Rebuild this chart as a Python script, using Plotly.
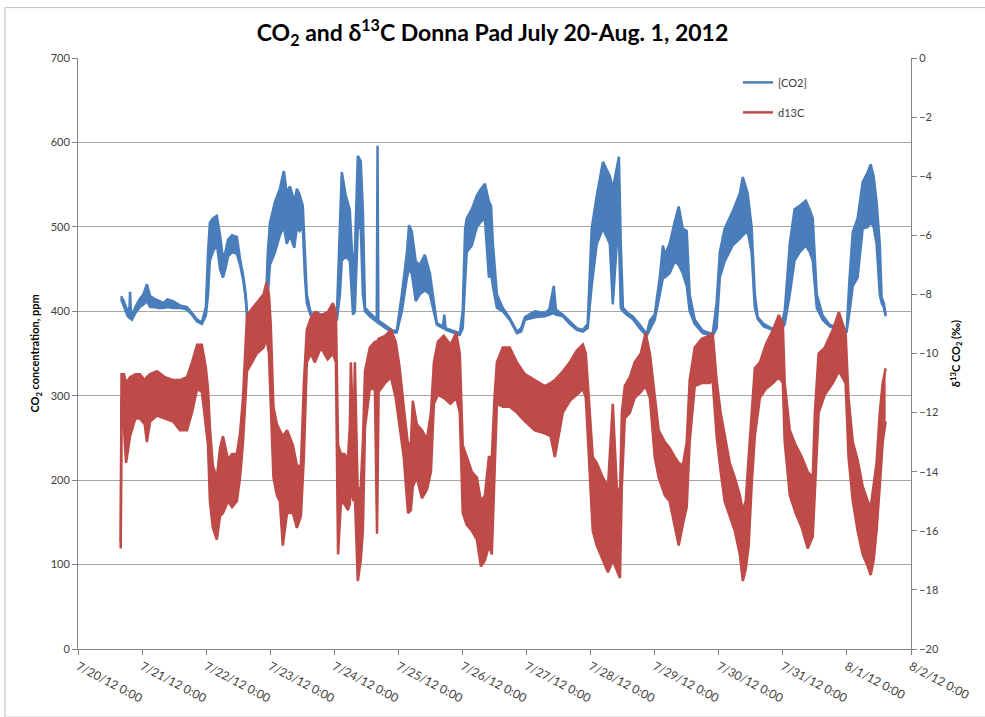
import pandas as pd
import plotly.graph_objects as go

# ---------------- data ----------------
# hours after 7/20/12 0:00, upper and lower edge of the noisy trace
co2_rows = [
    (16.1, 418, 415), (17.2, 412, 405), (18.5, 400, 395), (19.3, 405, 392), (19.5, 423, 392),
    (19.8, 400, 391), (20.2, 395, 390), (21.5, 405, 398), (23.2, 415, 405), (24.5, 420, 408),
    (25.8, 432, 412), (27.0, 418, 405), (28.5, 415, 405), (30.0, 413, 404), (32.0, 410, 404),
    (33.5, 414, 405), (35.6, 412, 404), (38.2, 407, 404), (40.8, 405, 402), (42.7, 398, 396),
    (44.6, 390, 388), (46.4, 387, 385), (47.9, 405, 395), (48.7, 470, 420), (49.4, 505, 460),
    (50.5, 510, 470), (52.0, 513, 480), (53.2, 490, 450), (54.3, 462, 440), (55.2, 470, 450),
    (56.2, 485, 465), (57.7, 490, 470), (59.5, 488, 468), (60.7, 462, 455), (62.0, 440, 435),
    (62.8, 420, 415), (63.5, 390, 386), (64.5, 385, 383), (66.3, 392, 386), (68.9, 405, 395),
    (70.5, 420, 405), (71.1, 470, 420), (71.9, 505, 455), (73.8, 530, 470), (75.6, 545, 490),
    (77.1, 566, 500), (78.2, 540, 480), (79.4, 548, 490), (81.0, 530, 475), (82.0, 545, 500),
    (83.0, 538, 495), (84.2, 525, 500), (85.0, 470, 440), (85.7, 420, 410), (87.0, 400, 396),
    (88.0, 395, 393), (89.5, 399, 396), (91.0, 395, 392), (92.5, 392, 390), (94.0, 390, 388),
    (95.5, 392, 388), (97.0, 400, 390), (98.1, 500, 420), (98.8, 565, 460), (100.3, 537, 465),
    (101.8, 520, 460), (103.0, 448, 396), (103.7, 470, 400), (104.8, 584, 498), (105.9, 578, 500),
    (106.7, 520, 420), (107.5, 404, 400), (109.3, 398, 394), (111.9, 390, 387), (112.2, 596, 387),
    (112.5, 389, 386), (115.7, 382, 379), (117.9, 377, 375), (119.4, 377, 375), (121.3, 420, 400),
    (123.2, 470, 440), (124.0, 502, 450), (125.0, 495, 445), (126.5, 459, 412), (128.0, 455, 420),
    (129.9, 467, 425), (131.8, 445, 420), (133.3, 410, 400), (134.4, 386, 384), (136.7, 382, 380),
    (137.2, 396, 382), (137.7, 380, 378), (140.4, 377, 375), (143.0, 374, 372), (144.1, 400, 380),
    (145.0, 498, 440), (145.6, 510, 470), (147.5, 521, 478), (149.4, 537, 500), (150.9, 545, 506),
    (152.4, 551, 510), (153.9, 530, 440), (154.7, 525, 445), (155.4, 480, 430), (156.9, 420, 404),
    (159.1, 404, 400), (161.7, 392, 390), (164.4, 376, 374), (166.0, 380, 376), (167.4, 393, 390),
    (171.1, 400, 393), (174.8, 398, 394), (176.5, 402, 396), (178.2, 430, 398), (179.0, 402, 396),
    (181.6, 396, 394), (184.2, 388, 385), (186.8, 380, 378), (189.1, 378, 376), (190.9, 385, 380),
    (192.4, 498, 430), (194.3, 537, 480), (196.6, 577, 498), (199.2, 560, 480), (200.3, 545, 408),
    (201.8, 570, 480), (202.6, 583, 490), (203.3, 480, 404), (204.1, 404, 400), (205.9, 398, 395),
    (207.8, 394, 391), (210.4, 384, 380), (213.0, 373, 371), (214.2, 389, 378), (216.0, 396, 390),
    (217.9, 440, 420), (219.1, 478, 440), (219.8, 467, 440), (221.6, 480, 445), (223.5, 506, 459),
    (225.0, 524, 455), (226.5, 498, 445), (228.0, 495, 430), (229.1, 420, 400), (231.0, 390, 385),
    (234.0, 377, 374), (237.7, 373, 371), (239.2, 410, 380), (240.4, 470, 440), (242.2, 498, 459),
    (245.2, 518, 478), (247.9, 540, 486), (249.0, 559, 490), (250.8, 540, 495), (252.3, 500, 470),
    (253.5, 420, 404), (254.6, 393, 391), (256.8, 385, 382), (259.1, 381, 379), (262.8, 377, 375),
    (264.7, 400, 385), (266.6, 480, 420), (268.4, 521, 460), (270.3, 525, 470), (272.6, 531, 478),
    (274.1, 520, 470), (275.2, 510, 460), (276.7, 420, 404), (278.9, 395, 390), (281.5, 384, 382),
    (285.3, 380, 378), (287.9, 377, 376), (289.0, 440, 400), (290.2, 494, 430), (292.0, 510, 440),
    (293.9, 553, 498), (295.8, 565, 500), (296.9, 574, 506), (298.0, 560, 500), (299.1, 530, 480),
    (300.3, 480, 420), (301.0, 416, 410), (301.8, 410, 405), (302.5, 396, 394),
]

d13c_rows = [
    (16.0, -16.4, -16.6), (16.3, -10.7, -11.5), (17.2, -10.7, -12.5), (18.0, -11.0, -13.7),
    (19.5, -10.8, -12.8), (21.5, -10.7, -12.2), (23.2, -10.7, -12.2), (25.0, -10.9, -12.4),
    (25.8, -10.8, -13.0), (27.0, -10.7, -12.3), (29.6, -10.6, -12.1), (32.6, -10.8, -12.2),
    (35.6, -10.9, -12.3), (38.2, -10.9, -12.6), (40.8, -10.8, -12.6), (42.7, -10.3, -12.0),
    (44.6, -9.7, -11.2), (46.4, -9.7, -11.3), (47.9, -10.5, -12.5), (48.7, -11.2, -13.1),
    (49.4, -12.5, -15.0), (50.5, -13.8, -15.9), (52.0, -14.2, -16.3), (53.2, -13.2, -15.5),
    (54.3, -12.8, -15.4), (56.2, -13.6, -15.0), (57.7, -13.4, -15.2), (59.5, -13.4, -15.0),
    (60.7, -12.7, -14.2), (61.8, -11.5, -13.0), (63.3, -8.7, -10.6), (65.0, -8.5, -10.3),
    (67.0, -8.3, -10.0), (69.5, -8.0, -9.8), (70.6, -7.6, -9.5), (71.5, -8.0, -10.0),
    (72.2, -9.0, -11.5), (73.2, -11.8, -14.2), (74.5, -12.4, -14.8), (75.6, -12.6, -15.0),
    (76.7, -12.8, -16.5), (78.3, -12.6, -15.4), (80.5, -13.1, -15.4), (82.0, -13.8, -15.9),
    (83.5, -13.8, -15.5), (84.6, -11.0, -13.5), (85.7, -9.2, -10.3), (87.2, -8.8, -10.0),
    (88.7, -8.6, -10.3), (91.0, -8.7, -9.8), (93.5, -8.6, -10.2), (95.5, -8.3, -10.0),
    (96.6, -8.6, -10.3), (97.4, -13.1, -16.8), (98.5, -13.4, -15.0), (99.8, -13.4, -15.1),
    (101.1, -13.6, -15.3), (101.8, -12.5, -15.1), (102.2, -10.3, -14.5), (103.2, -13.0, -15.0),
    (103.7, -10.3, -14.8), (104.8, -14.8, -17.7), (105.9, -14.5, -17.0), (106.7, -13.0, -16.0),
    (107.5, -10.6, -12.5), (109.3, -9.8, -11.2), (111.2, -9.6, -11.2), (112.0, -9.6, -16.1),
    (112.6, -9.5, -11.3), (115.0, -9.4, -11.0), (117.2, -9.2, -10.8), (119.0, -9.6, -11.5),
    (120.5, -10.5, -12.5), (122.0, -11.8, -13.5), (123.6, -13.1, -15.4), (124.7, -13.0, -15.3),
    (125.4, -11.6, -14.5), (126.9, -12.4, -14.2), (128.8, -12.6, -14.9), (130.7, -12.9, -14.6),
    (132.2, -12.0, -14.0), (133.3, -10.3, -11.7), (134.8, -9.6, -11.4), (137.0, -9.4, -11.5),
    (139.5, -9.7, -11.7), (141.7, -9.3, -11.5), (143.0, -10.0, -12.0), (144.1, -13.1, -15.4),
    (145.6, -13.5, -15.8), (147.5, -14.0, -16.0), (149.4, -14.2, -16.3), (150.9, -15.0, -17.2),
    (152.4, -14.8, -17.0), (153.9, -13.5, -16.5), (155.0, -13.5, -16.8), (156.0, -11.5, -14.0),
    (156.9, -10.3, -11.7), (159.1, -9.8, -11.8), (161.7, -9.8, -11.8), (164.4, -10.3, -12.0),
    (167.4, -10.7, -12.3), (171.1, -10.9, -12.6), (174.8, -11.1, -12.7), (177.0, -11.0, -12.8),
    (178.6, -10.9, -13.5), (181.6, -10.6, -12.0), (184.2, -10.3, -11.6), (186.8, -9.9, -11.4),
    (189.1, -9.7, -11.2), (190.2, -10.0, -11.5), (191.3, -11.5, -13.5), (192.8, -13.5, -16.0),
    (194.3, -13.7, -16.5), (196.6, -14.2, -17.0), (198.5, -14.5, -17.4), (200.3, -11.7, -17.0),
    (201.8, -14.5, -17.3), (203.0, -14.8, -17.6), (203.7, -12.0, -14.5), (204.8, -11.1, -12.2),
    (206.7, -10.8, -12.0), (208.5, -10.3, -11.5), (210.8, -10.0, -11.3), (212.6, -9.3, -11.1),
    (214.2, -10.0, -11.5), (216.0, -11.5, -13.5), (217.5, -12.6, -14.2), (219.8, -13.0, -14.8),
    (221.6, -13.2, -15.0), (223.5, -13.5, -15.8), (225.0, -13.7, -16.5), (226.5, -13.8, -15.8),
    (228.0, -13.0, -15.2), (229.1, -10.9, -13.0), (231.0, -9.8, -11.1), (233.6, -9.5, -11.0),
    (236.6, -9.4, -11.0), (237.7, -9.3, -10.9), (239.2, -10.9, -12.8), (240.7, -12.0, -14.0),
    (242.2, -12.8, -15.0), (244.1, -13.7, -15.5), (246.0, -14.2, -16.0), (247.9, -14.8, -16.8),
    (249.0, -15.3, -17.7), (250.1, -15.0, -17.3), (251.2, -13.5, -16.5), (252.3, -12.0, -14.5),
    (253.5, -10.5, -12.8), (255.4, -10.3, -11.5), (257.6, -9.7, -11.2), (260.3, -9.2, -11.0),
    (262.5, -8.7, -10.8), (264.0, -9.0, -11.0), (264.7, -11.0, -13.0), (266.6, -12.6, -14.8),
    (268.8, -13.1, -15.4), (271.1, -13.5, -15.9), (273.3, -14.0, -16.6), (275.2, -14.2, -16.2),
    (276.0, -12.0, -14.5), (277.4, -10.0, -12.0), (279.7, -9.8, -11.4), (282.7, -9.2, -11.0),
    (285.0, -8.6, -10.6), (287.5, -9.3, -11.0), (288.6, -11.5, -13.5), (290.2, -13.0, -15.0),
    (292.0, -13.6, -16.0), (293.9, -14.5, -16.8), (295.8, -15.0, -17.2), (296.9, -15.2, -17.5),
    (298.0, -14.5, -17.0), (299.1, -13.7, -16.0), (300.3, -12.0, -14.5), (301.4, -11.0, -13.0),
    (302.5, -10.5, -12.3),
]

start_time = "2012-07-20 00:00"
end_time = "2012-08-02 00:00"
tick_dates = ["2012-07-20", "2012-07-21", "2012-07-22", "2012-07-23", "2012-07-24",
              "2012-07-25", "2012-07-26", "2012-07-27", "2012-07-28", "2012-07-29",
              "2012-07-30", "2012-07-31", "2012-08-01", "2012-08-02"]
tick_labels = ["7/20/12 0:00", "7/21/12 0:00", "7/22/12 0:00", "7/23/12 0:00", "7/24/12 0:00",
               "7/25/12 0:00", "7/26/12 0:00", "7/27/12 0:00", "7/28/12 0:00", "7/29/12 0:00",
               "7/30/12 0:00", "7/31/12 0:00", "8/1/12 0:00", "8/2/12 0:00"]

co2_hours, co2_high, co2_low = map(list, zip(*co2_rows))
d13c_hours, d13c_high, d13c_low = map(list, zip(*d13c_rows))

base = pd.Timestamp(start_time)
co2_t = base + pd.to_timedelta(co2_hours, unit="h")
d13c_t = base + pd.to_timedelta(d13c_hours, unit="h")

BLUE = "#4A7EBB"
RED = "#BE4B48"
FONT = "Lato, 'Open Sans', sans-serif"

fig = go.Figure()
fig.add_trace(go.Scatter(x=co2_t, y=co2_low, mode="lines", name="[CO2]",
                         line=dict(color=BLUE, width=2.5), legendgroup="co2",
                         hoverinfo="skip"))
fig.add_trace(go.Scatter(x=co2_t, y=co2_high, mode="lines", name="[CO2]",
                         line=dict(color=BLUE, width=2.5), fill="tonexty",
                         fillcolor=BLUE, legendgroup="co2", showlegend=False,
                         hoverinfo="skip"))
fig.add_trace(go.Scatter(x=d13c_t, y=d13c_low, mode="lines", name="d13C",
                         line=dict(color=RED, width=2.5), legendgroup="d13c",
                         yaxis="y2", hoverinfo="skip"))
fig.add_trace(go.Scatter(x=d13c_t, y=d13c_high, mode="lines", name="d13C",
                         line=dict(color=RED, width=2.5), fill="tonexty",
                         fillcolor=RED, legendgroup="d13c", showlegend=False,
                         yaxis="y2", hoverinfo="skip"))

L, R, T, B = 78, 74, 58, 61
W, H = 985, 717
pw, ph = W - L - R, H - T - B

fig.update_layout(
    width=W, height=H,
    margin=dict(l=L, r=R, t=T, b=B),
    paper_bgcolor="white", plot_bgcolor="white",
    font=dict(family=FONT, size=11, color="#404040"),
    title=dict(text="<b>CO<sub>2</sub> and δ<sup>13</sup>C Donna Pad July 20-Aug. 1, 2012</b>",
               x=0.5, xanchor="center", y=1 - 33 / H, yanchor="middle",
               yref="container", font=dict(family=FONT, size=23, color="#000000")),
    xaxis=dict(type="date", range=[start_time, end_time],
               tickvals=tick_dates, ticktext=tick_labels, tickangle=28,
               showgrid=False, zeroline=False,
               showline=True, linecolor="#868686", linewidth=1,
               ticks="outside", ticklen=5, tickcolor="#868686",
               tickfont=dict(size=12, color="#404040")),
    yaxis=dict(range=[0, 700], dtick=100, showgrid=True, gridcolor="#a6a6a6",
               gridwidth=1, zeroline=False, showline=True, linecolor="#868686",
               ticks="outside", ticklen=5, tickcolor="#868686",
               tickfont=dict(size=11, color="#404040"),
               title=dict(text="<b>CO<sub>2</sub> concentration, ppm</b>",
                          font=dict(size=11, color="#000000"), standoff=8)),
    yaxis2=dict(range=[-20, 0], dtick=2, overlaying="y", side="right",
                showgrid=False, zeroline=False, showline=True, linecolor="#868686",
                ticks="outside", ticklen=5, tickcolor="#868686",
                tickfont=dict(size=11, color="#404040"),
                title=dict(text="<b>δ<sup>13</sup>C CO<sub>2</sub> (‰)</b>",
                           font=dict(size=11, color="#000000"), standoff=14)),
    legend=dict(x=(738 - L) / pw, y=(H - B - 68) / ph, xanchor="left", yanchor="top",
                bgcolor="rgba(0,0,0,0)", font=dict(size=11, color="#404040"),
                tracegroupgap=11, traceorder="grouped"),
    shapes=[dict(type="rect", xref="paper", yref="paper",
                 x0=(5 - L) / pw, x1=(990 - L) / pw,
                 y0=(H - B - 725) / ph, y1=(H - B - 7) / ph,
                 line=dict(color="#bfbfbf", width=1), fillcolor="rgba(0,0,0,0)",
                 layer="below")],
)

fig.write_html("out.html")
